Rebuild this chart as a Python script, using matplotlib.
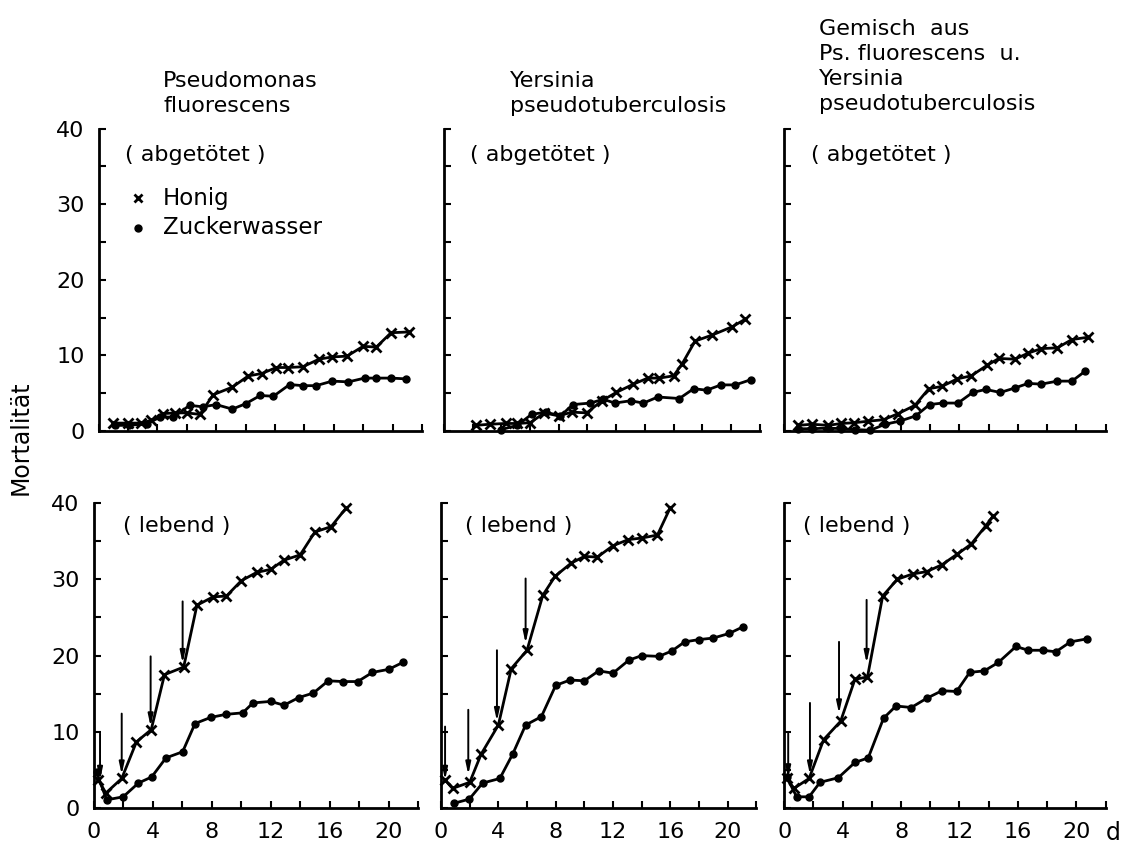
import matplotlib.pyplot as plt

plt.rcParams['font.family'] = ['DejaVu Sans']

# --- data: days, mortality ---
# top row: killed bacteria (abgetötet)
pf_dead_honig_day = [1.0, 2.0, 2.9, 3.6, 4.4, 5.2, 6.0, 6.9, 7.8, 9.1, 10.2, 11.1, 12.1, 12.9, 13.9, 15.0, 15.9, 16.9, 18.0, 18.9, 19.9, 21.1]
pf_dead_honig = [1.05, 1.05, 1.05, 1.4, 2.3, 2.4, 2.4, 2.2, 4.8, 5.8, 7.3, 7.6, 8.4, 8.4, 8.5, 9.5, 9.8, 9.9, 11.2, 11.1, 13.0, 13.1]
pf_dead_zucker_day = [1.1, 2.1, 3.3, 4.2, 5.1, 6.2, 7.1, 8.0, 9.1, 10.0, 11.0, 11.9, 13.0, 13.9, 14.8, 15.9, 17.0, 18.1, 18.9, 19.9, 20.9]
pf_dead_zucker = [0.75, 0.75, 0.97, 1.85, 1.85, 3.4, 3.2, 3.5, 2.9, 3.6, 4.7, 4.6, 6.15, 6.0, 6.0, 6.6, 6.5, 7.0, 7.0, 7.0, 6.9]

yp_dead_honig_day = [2.2, 3.2, 4.3, 5.1, 6.0, 7.0, 8.0, 8.9, 9.95, 11.0, 12.0, 13.2, 14.2, 15.0, 16.0, 16.6, 17.5, 18.7, 20.1, 21.0]
yp_dead_honig = [0.75, 0.9, 1.0, 1.0, 1.1, 2.4, 2.0, 2.5, 2.4, 4.0, 5.1, 6.2, 7.0, 7.0, 7.3, 8.9, 11.9, 12.7, 13.8, 14.8]
yp_dead_zucker_day = [4.0, 5.1, 6.1, 7.1, 8.1, 9.0, 10.2, 11.1, 11.9, 13.0, 13.9, 14.9, 16.4, 17.4, 18.3, 19.3, 20.3, 21.4]
yp_dead_zucker = [0.2, 0.75, 2.2, 2.5, 2.0, 3.5, 3.7, 4.2, 3.7, 4.0, 3.7, 4.5, 4.3, 5.6, 5.4, 6.1, 6.1, 6.8]

mix_dead_honig_day = [0.96, 1.9, 3.0, 3.9, 4.8, 5.75, 6.8, 7.8, 8.95, 9.9, 10.8, 11.85, 12.8, 13.9, 14.7, 15.8, 16.7, 17.6, 18.7, 19.7, 20.8]
mix_dead_honig = [0.75, 0.9, 0.75, 1.0, 1.1, 1.3, 1.5, 2.3, 3.4, 5.6, 5.9, 6.9, 7.3, 8.7, 9.6, 9.5, 10.3, 10.9, 11.0, 12.1, 12.4]
mix_dead_zucker_day = [0.96, 1.9, 3.0, 3.9, 4.85, 5.9, 6.9, 7.9, 9.0, 9.95, 10.85, 11.9, 12.9, 13.8, 14.8, 15.8, 16.7, 17.6, 18.7, 19.7, 20.6]
mix_dead_zucker = [0.3, 0.3, 0.4, 0.3, 0.2, 0.1, 0.9, 1.3, 2.0, 3.5, 3.7, 3.7, 5.1, 5.5, 5.1, 5.7, 6.3, 6.2, 6.6, 6.6, 7.9]

# bottom row: living bacteria (lebend)
pf_live_honig_day = [0.31, 0.83, 1.9, 2.9, 3.9, 4.8, 6.1, 7.0, 8.1, 9.0, 10.0, 11.05, 12.0, 12.9, 14.0, 15.0, 16.1, 17.1]
pf_live_honig = [3.7, 2.0, 3.9, 8.7, 10.3, 17.5, 18.5, 26.6, 27.7, 27.8, 29.8, 30.9, 31.3, 32.5, 33.2, 36.2, 36.9, 39.3]
pf_live_zucker_day = [0.2, 0.88, 2.0, 3.03, 3.93, 4.9, 6.03, 6.87, 7.93, 8.95, 10.1, 10.8, 12.0, 12.9, 13.9, 14.9, 15.9, 16.9, 17.9, 18.9, 20.0, 20.95]
pf_live_zucker = [4.7, 1.1, 1.5, 3.3, 4.1, 6.6, 7.4, 11.1, 11.9, 12.3, 12.5, 13.8, 14.0, 13.5, 14.5, 15.1, 16.7, 16.6, 16.6, 17.8, 18.2, 19.1]

yp_live_honig_day = [0.28, 0.8, 2.0, 2.8, 4.0, 4.9, 6.0, 7.1, 7.96, 9.07, 10.0, 10.9, 12.0, 13.07, 14.0, 15.1, 16.0]
yp_live_honig = [3.7, 2.6, 3.4, 7.1, 10.9, 18.3, 20.7, 27.9, 30.4, 32.1, 33.0, 32.9, 34.4, 35.2, 35.4, 35.8, 39.4]
yp_live_zucker_day = [0.9, 1.97, 2.9, 4.1, 5.0, 5.9, 7.0, 8.0, 9.0, 10.0, 11.0, 12.0, 13.1, 14.0, 15.2, 16.1, 17.0, 18.0, 19.0, 20.1, 21.1]
yp_live_zucker = [0.65, 1.2, 3.3, 3.9, 7.1, 10.9, 12.0, 16.1, 16.8, 16.7, 18.0, 17.7, 19.4, 20.0, 19.9, 20.6, 21.8, 22.1, 22.3, 22.9, 23.8]

mix_live_honig_day = [0.16, 0.66, 1.7, 2.7, 3.86, 4.84, 5.7, 6.74, 7.74, 8.8, 9.75, 10.8, 11.85, 12.8, 13.8, 14.3]
mix_live_honig = [3.9, 2.6, 3.9, 9.0, 11.4, 16.9, 17.2, 27.8, 30.0, 30.7, 31.0, 31.9, 33.3, 34.6, 37.0, 38.3]
mix_live_zucker_day = [0.16, 0.85, 1.7, 2.45, 3.7, 4.84, 5.75, 6.8, 7.65, 8.7, 9.75, 10.8, 11.8, 12.7, 13.7, 14.66, 15.87, 16.7, 17.7, 18.6, 19.6, 20.75]
mix_live_zucker = [4.1, 1.5, 1.5, 3.4, 4.0, 6.0, 6.6, 11.8, 13.4, 13.2, 14.4, 15.4, 15.3, 17.8, 18.0, 19.1, 21.2, 20.7, 20.7, 20.5, 21.8, 22.2]

# feeding arrows in the bottom row: day, start, tip
pf_arrow_day = [0.43, 1.9, 3.86, 6.03]
pf_arrow_top = [9.8, 12.4, 19.9, 27.1]
pf_arrow_tip = [3.7, 4.4, 10.7, 19.0]
yp_arrow_day = [0.28, 1.9, 3.9, 5.9]
yp_arrow_top = [10.7, 12.9, 20.7, 30.1]
yp_arrow_tip = [3.7, 4.4, 11.4, 21.6]
mix_arrow_day = [0.27, 1.76, 3.75, 5.64]
mix_arrow_top = [9.8, 13.8, 21.8, 27.3]
mix_arrow_tip = [3.9, 4.4, 12.4, 19.0]

titles = ['Pseudomonas\nfluorescens',
          'Yersinia\npseudotuberculosis',
          'Gemisch  aus\nPs. fluorescens  u.\nYersinia\npseudotuberculosis']


def panel(rect, hd, hy, zd, zy, left_col, bottom_row, arrows=None):
    ax = fig.add_axes(rect)
    ax.plot(hd, hy, color='k', lw=2, marker='x', ms=7, mew=2, clip_on=False)
    ax.plot(zd, zy, color='k', lw=2, marker='o', ms=5, clip_on=False)
    if arrows is not None:
        for d, top, tip in zip(*arrows):
            ax.annotate('', xy=(d, tip), xytext=(d, top),
                        arrowprops=dict(arrowstyle='-|>,head_length=0.7,head_width=0.15',
                                        color='k', lw=1.4, shrinkA=0, shrinkB=0))
    ax.set_xlim(0, 22)
    ax.set_ylim(0, 40)
    for s in ['top', 'right']:
        ax.spines[s].set_visible(False)
    for s in ['left', 'bottom']:
        ax.spines[s].set_linewidth(2)
    ax.tick_params(direction='in', length=5, width=1.5, labelsize=16, pad=10)
    ax.set_yticks(range(0, 41, 5))
    if left_col:
        ax.set_yticklabels([str(v) if v % 10 == 0 else '' for v in range(0, 41, 5)])
    else:
        ax.set_yticklabels([])
    ax.set_xticks(range(0, 23, 2))
    if bottom_row:
        ax.set_xticklabels([str(v) if v % 4 == 0 and v < 22 else '' for v in range(0, 23, 2)])
    else:
        ax.set_xticklabels([])
    return ax


fig = plt.figure(figsize=(11.26, 8.5), dpi=100)

top_b, top_h = 0.4929, 0.3559
bot_b, bot_h = 0.0491, 0.3592

ax1 = panel([0.0875, top_b, 0.2872, top_h], pf_dead_honig_day, pf_dead_honig,
            pf_dead_zucker_day, pf_dead_zucker, True, False)
ax2 = panel([0.3943, top_b, 0.2804, top_h], yp_dead_honig_day, yp_dead_honig,
            yp_dead_zucker_day, yp_dead_zucker, False, False)
ax3 = panel([0.6965, top_b, 0.2853, top_h], mix_dead_honig_day, mix_dead_honig,
            mix_dead_zucker_day, mix_dead_zucker, False, False)
ax4 = panel([0.0832, bot_b, 0.2882, bot_h], pf_live_honig_day, pf_live_honig,
            pf_live_zucker_day, pf_live_zucker, True, True,
            (pf_arrow_day, pf_arrow_top, pf_arrow_tip))
ax5 = panel([0.3917, bot_b, 0.2800, bot_h], yp_live_honig_day, yp_live_honig,
            yp_live_zucker_day, yp_live_zucker, False, True,
            (yp_arrow_day, yp_arrow_top, yp_arrow_tip))
ax6 = panel([0.6965, bot_b, 0.2853, bot_h], mix_live_honig_day, mix_live_honig,
            mix_live_zucker_day, mix_live_zucker, False, True,
            (mix_arrow_day, mix_arrow_top, mix_arrow_tip))

for ax in (ax1, ax2, ax3):
    ax.text(1.8, 36.5, '( abgetötet )', fontsize=16, va='center', ha='left')
for ax, x0 in zip((ax4, ax5, ax6), (2.0, 1.7, 1.3)):
    ax.text(x0, 37, '( lebend )', fontsize=16, va='center', ha='left')

# legend drawn as in the original
ax1.plot([2.7], [30.8], 'kx', ms=6, mew=2)
ax1.plot([2.7], [26.9], 'ko', ms=5)
ax1.text(4.4, 30.8, 'Honig', fontsize=16.5, va='center', ha='left')
ax1.text(4.4, 26.9, 'Zuckerwasser', fontsize=16.5, va='center', ha='left')

fig.text(0.1448, 0.868, titles[0], fontsize=16, ha='left', va='baseline', linespacing=1.35)
fig.text(0.453, 0.868, titles[1], fontsize=16, ha='left', va='baseline', linespacing=1.35)
fig.text(0.7274, 0.8706, titles[2], fontsize=16, ha='left', va='baseline', linespacing=1.32)

fig.text(0.018, 0.4847, 'Mortalität', fontsize=17, rotation=90, ha='center', va='center')
fig.text(1113 / 1126, 1 - 833 / 850, 'd', fontsize=17, ha='center', va='center')

fig.savefig('out.png', dpi=100)
